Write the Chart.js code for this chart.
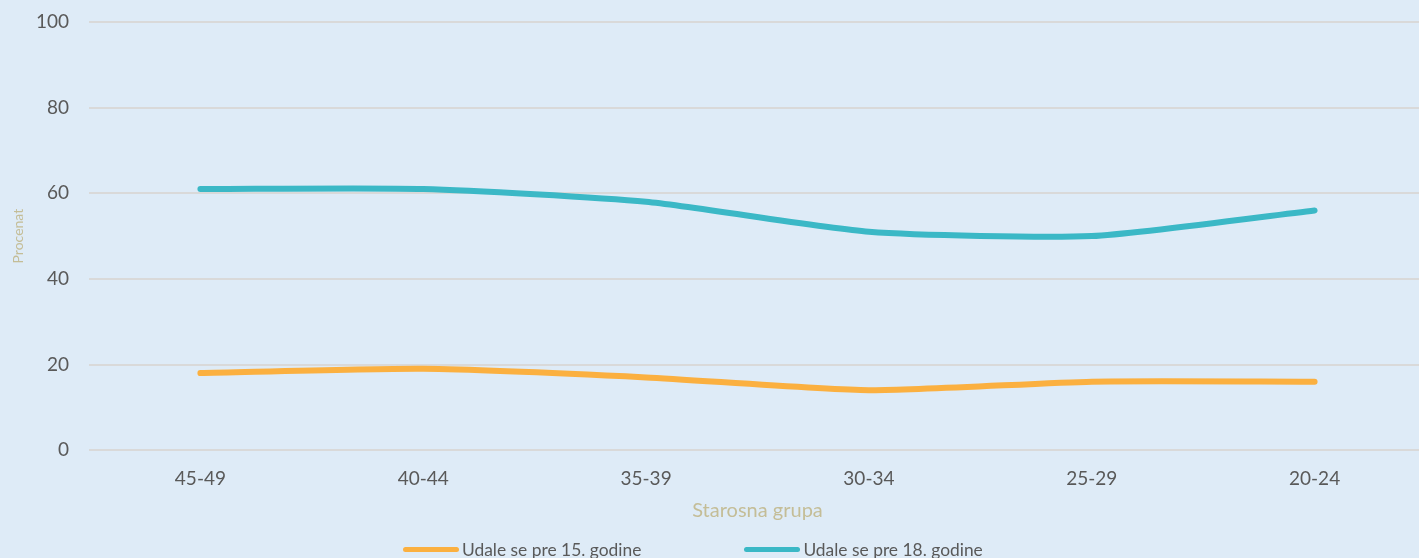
<!DOCTYPE html>
<html>
<head>
<meta charset="utf-8">
<script src="https://cdn.jsdelivr.net/npm/chart.js@4/dist/chart.umd.min.js"></script>
<style>
  html, body { margin: 0; padding: 0; background: #DEEBF7; overflow: hidden; }
  #wrap { position: relative; width: 1419px; height: 558px; overflow: hidden; }
  #chart { position: absolute; left: 0; top: 0; }
  #legend {
    position: absolute; left: 403px; top: 538px; height: 22px;
    display: flex; align-items: center;
    font-family: Lato, "Open Sans", sans-serif; font-size: 17.4px; color: #595959;
  }
  .item { display: flex; align-items: center; margin-right: 103px; white-space: nowrap; }
  .swatch { width: 56px; height: 5px; border-radius: 3px; margin-right: 3px; }
</style>
</head>
<body>
<div id="wrap">
  <canvas id="chart" width="1426" height="558"></canvas>
  <div id="legend"></div>
</div>
<script>
// Age groups on the x axis
const ageGroups = ['45-49', '40-44', '35-39', '30-34', '25-29', '20-24'];

// Share (%) married before a given age
const before15 = [18, 19, 17, 14, 16, 16];
const before18 = [61, 61, 58, 51, 50, 56];

const seriesLabels = ['Udale se pre 15. godine', 'Udale se pre 18. godine'];
const seriesColors = ['#FBB040', '#3BB8C6'];

const tickColor = '#595959';
const titleColor = '#C4BD97';

const ctx = document.getElementById('chart').getContext('2d');

const chart = new Chart(ctx, {
  type: 'line',
  data: {
    labels: ageGroups,
    datasets: [
      {
        label: seriesLabels[0],
        data: before15,
        borderColor: seriesColors[0],
        backgroundColor: seriesColors[0],
        borderWidth: 6,
        borderCapStyle: 'round',
        pointRadius: 0,
        tension: 0.2
      },
      {
        label: seriesLabels[1],
        data: before18,
        borderColor: seriesColors[1],
        backgroundColor: seriesColors[1],
        borderWidth: 6,
        borderCapStyle: 'round',
        pointRadius: 0,
        tension: 0.2
      }
    ]
  },
  options: {
    responsive: false,
    animation: false,
    layout: { padding: { top: 22, right: 0, bottom: 35, left: 0 } },
    plugins: {
      legend: { display: false },
      tooltip: { enabled: false }
    },
    scales: {
      x: {
        offset: true,
        grid: { display: false, drawTicks: false },
        border: { display: false },
        ticks: {
          color: tickColor,
          padding: 17,
          font: { family: 'Lato', size: 19 }
        },
        title: {
          display: true,
          text: 'Starosna grupa',
          color: titleColor,
          padding: { top: -8, bottom: 0 },
          font: { family: 'Lato', size: 20 }
        }
      },
      y: {
        min: 0,
        max: 100,
        ticks: {
          stepSize: 20,
          color: tickColor,
          padding: 20,
          font: { family: 'Lato', size: 19 }
        },
        grid: { color: '#D9D9D9', lineWidth: 2, drawTicks: false },
        border: { display: false },
        title: {
          display: true,
          text: 'Procenat',
          color: titleColor,
          padding: { top: 10, bottom: 0 },
          font: { family: 'Lato', size: 14 }
        },
        afterFit: function(scale) {
          // fixed axis width, and no extra room above the top tick
          scale.width = 89;
          scale.paddingTop = 0;
        }
      }
    }
  }
});

// Build the legend below the chart from the datasets
const legendEl = document.getElementById('legend');
chart.data.datasets.forEach(function(ds) {
  const item = document.createElement('div');
  item.className = 'item';
  const sw = document.createElement('span');
  sw.className = 'swatch';
  sw.style.background = ds.borderColor;
  const txt = document.createElement('span');
  txt.textContent = ds.label;
  item.appendChild(sw);
  item.appendChild(txt);
  legendEl.appendChild(item);
});
</script>
</body>
</html>
